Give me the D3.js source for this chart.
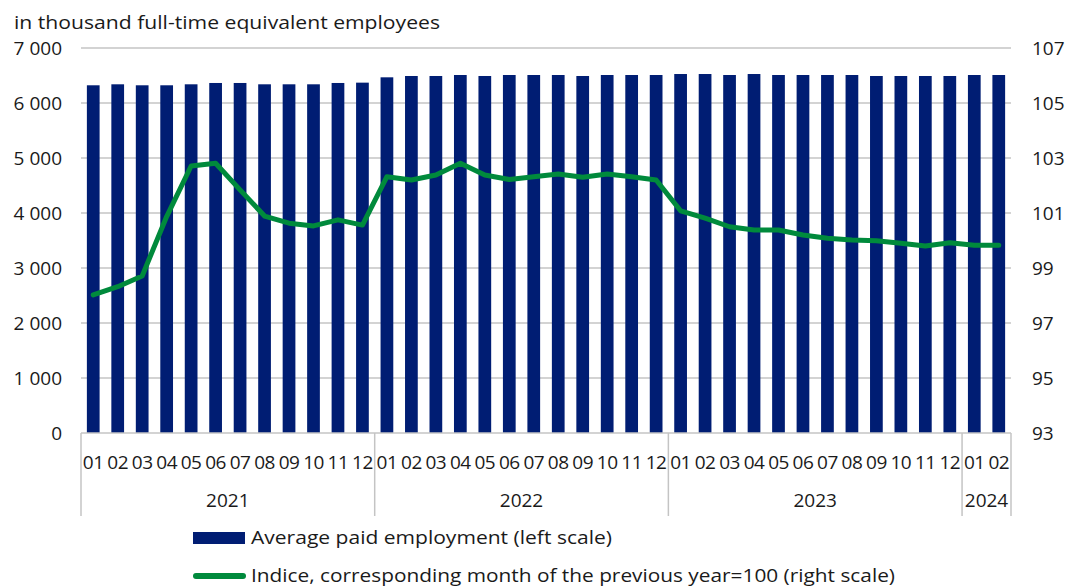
<!DOCTYPE html>
<html><head><meta charset="utf-8">
<script src="https://cdn.jsdelivr.net/npm/d3@7"></script>
<style>
body{margin:0;background:#fff;}
text{font-family:"Open Sans",sans-serif;fill:#1a1a1a;}
</style></head>
<body><svg id="c" width="1065" height="588"></svg>
<script>
const years = ["2021","2022","2023","2024"];
const monthsPerYear = [12,12,12,2];
const monthLabels = ["01","02","03","04","05","06","07","08","09","10","11","12"];
const employment = [
 6322,6340,6322,6322,6340,6364,6364,6340,6340,6340,6364,6370,
 6467,6491,6491,6509,6491,6509,6509,6509,6491,6509,6509,6509,
 6527,6527,6509,6527,6509,6509,6509,6509,6491,6491,6491,6491,
 6509,6509];
const indice = [
 98.02,98.32,98.71,100.87,102.71,102.81,101.84,100.89,100.63,100.53,100.75,100.56,
 102.32,102.2,102.38,102.81,102.38,102.22,102.32,102.42,102.3,102.42,102.32,102.2,
 101.08,100.81,100.5,100.38,100.38,100.2,100.08,100.02,99.99,99.9,99.8,99.92,
 99.83,99.83];
const leftTicks = [0,1000,2000,3000,4000,5000,6000,7000];
const rightTicks = [93,95,97,99,101,103,105,107];
const titleText = "in thousand full-time equivalent employees";
const legendBar = "Average paid employment (left scale)";
const legendLine = "Indice, corresponding month of the previous year=100 (right scale)";

const cats = [];
years.forEach((y,i)=>{for(let m=0;m<monthsPerYear[i];m++) cats.push(y+"-"+monthLabels[m]);});

const svg = d3.select("#c");
const L=81, R=1011, T=48, B=433;
const x = d3.scaleBand().domain(cats).range([L,R]).paddingInner(0.48).paddingOuter(0.24);
const yL = d3.scaleLinear().domain([0,7000]).range([B,T]);
const yR = d3.scaleLinear().domain([93,107]).range([B,T]);
const navy="#001d73", green="#008a3c", grid="#c4c4c4";
const fs=19;

// gridlines
svg.append("g").selectAll("line").data(leftTicks.slice(1)).join("line")
 .attr("x1",L).attr("x2",R).attr("y1",d=>yL(d)).attr("y2",d=>yL(d))
 .attr("stroke",grid).attr("stroke-width",1.5);

// title
svg.append("text").attr("x",14).attr("y",29).attr("font-size",fs)
 .attr("textLength",426).attr("lengthAdjust","spacingAndGlyphs").text(titleText);

// left axis labels
const fmt = d=>d3.format(",")(d).replace(/,/g," ");
svg.append("g").selectAll("text").data(leftTicks).join("text")
 .attr("x",62).attr("y",d=>yL(d)+7).attr("text-anchor","end").attr("font-size",fs).text(fmt);
// right axis labels
svg.append("g").selectAll("text").data(rightTicks).join("text")
 .attr("x",1032).attr("y",d=>yR(d)+7).attr("text-anchor","start").attr("font-size",fs).text(d=>d);

// bars
svg.append("g").selectAll("rect").data(employment).join("rect")
 .attr("x",(d,i)=>x(cats[i])).attr("width",x.bandwidth())
 .attr("y",d=>yL(d)).attr("height",d=>B-yL(d)).attr("fill",navy);

// line
const line = d3.line().x((d,i)=>x(cats[i])+x.bandwidth()/2).y(d=>yR(d)).curve(d3.curveLinear);
svg.append("path").datum(indice).attr("d",line).attr("fill","none")
 .attr("stroke",green).attr("stroke-width",5).attr("stroke-linejoin","round").attr("stroke-linecap","round");

// x axis
const step = x.step();
svg.append("line").attr("x1",L).attr("x2",R).attr("y1",B).attr("y2",B).attr("stroke",grid).attr("stroke-width",1.5);
let idx=0; const bounds=[L];
years.forEach((y,i)=>{idx+=monthsPerYear[i]; bounds.push(L+idx*step);});
svg.append("g").selectAll("line").data(bounds).join("line")
 .attr("x1",d=>d).attr("x2",d=>d).attr("y1",B).attr("y2",516).attr("stroke",grid).attr("stroke-width",1.5);
svg.append("g").selectAll("text").data(cats).join("text")
 .attr("x",d=>x(d)+x.bandwidth()/2).attr("y",469).attr("text-anchor","middle").attr("font-size",fs)
 .attr("letter-spacing",-0.5).text(d=>d.split("-")[1]);
svg.append("g").selectAll("text").data(years).join("text")
 .attr("x",(d,i)=>(bounds[i]+bounds[i+1])/2).attr("y",507).attr("text-anchor","middle").attr("font-size",fs).text(d=>d);

// legend
svg.append("rect").attr("x",193).attr("y",532).attr("width",52).attr("height",12).attr("fill",navy);
svg.append("text").attr("x",251).attr("y",544).attr("font-size",fs)
 .attr("textLength",361).attr("lengthAdjust","spacingAndGlyphs").text(legendBar);
svg.append("line").attr("x1",196).attr("x2",243).attr("y1",576).attr("y2",576).attr("stroke",green).attr("stroke-width",6).attr("stroke-linecap","round");
svg.append("text").attr("x",251).attr("y",582).attr("font-size",fs)
 .attr("textLength",644).attr("lengthAdjust","spacingAndGlyphs").text(legendLine);
</script></body></html>
